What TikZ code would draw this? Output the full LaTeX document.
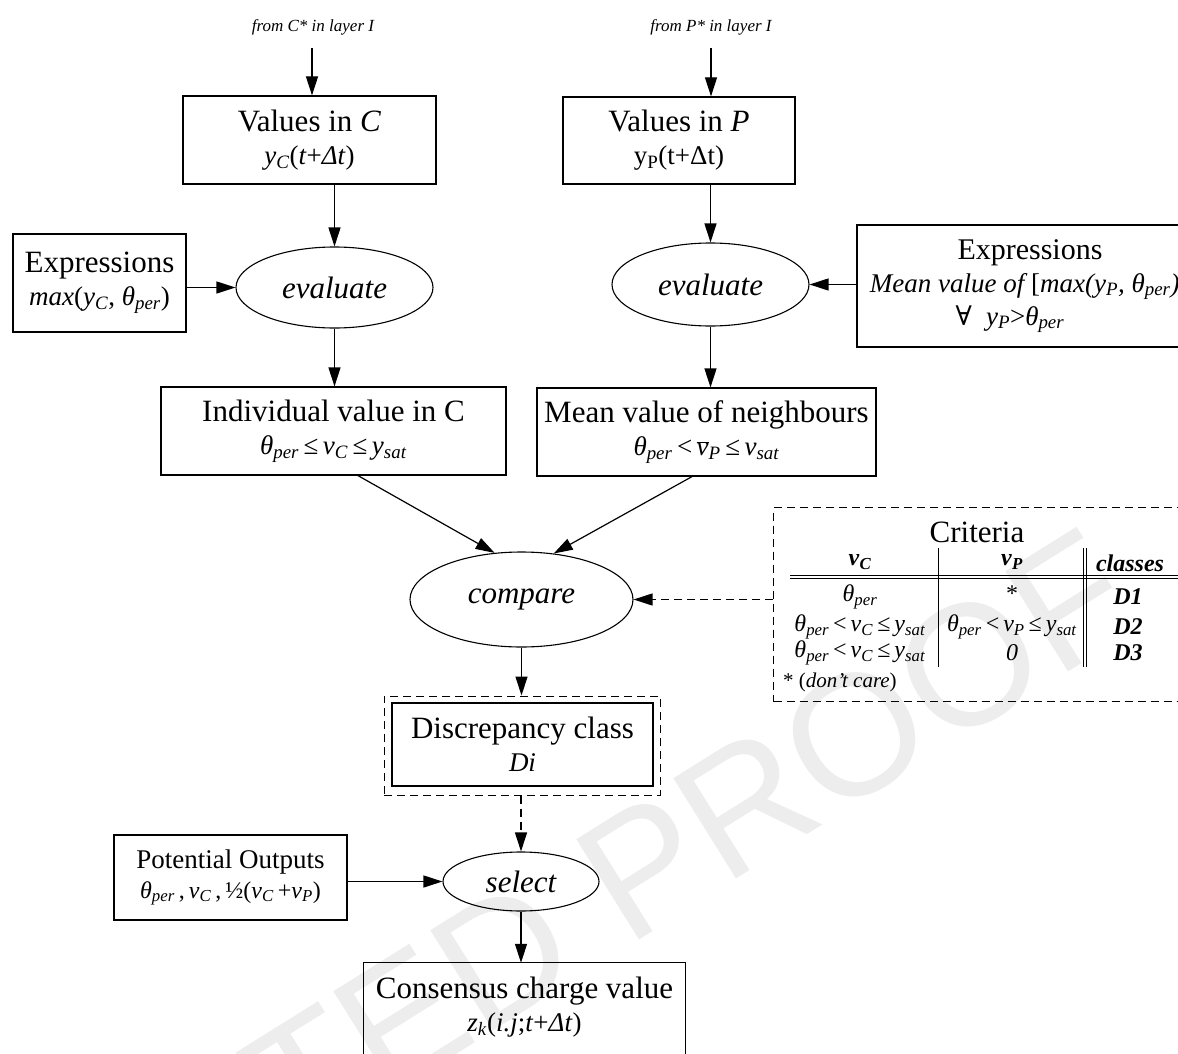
\documentclass[tikz,border=0pt]{standalone}
\usepackage{fontspec}
\setmainfont{Liberation Serif}
\setsansfont{Liberation Sans}
\newfontfamily\dvs{DejaVu Serif}
\usetikzlibrary{arrows.meta,shapes.geometric,calc}

\newcommand\iv[1]{\textit{#1}}
\newcommand\sbx[1]{\textsubscript{\textit{#1}}}
\newcommand\thp{\textit{θ}\sbx{per}}
\newcommand\bi[1]{\textbf{\textit{#1}}}
\newcommand\vbar{\ensuremath{\overline{\hbox{\textit{v}}}}}

\tikzset{
  box/.style={draw, line width=1.2pt, align=center, inner sep=0pt,
    font=\fontsize{31}{33}\selectfont},
  oval/.style={draw, ellipse, line width=1.1pt, inner sep=0pt,
    font=\fontsize{31}{33}\selectfont\itshape},
  arr/.style={line width=1.2pt, -{Triangle[length=19pt,width=12pt]}},
  dsh/.style={dash pattern=on 8pt off 5pt},
  cell/.style={font=\fontsize{24}{26}\selectfont, inner sep=0pt},
  rule/.style={line width=1pt},
  src/.style={font=\fontsize{17}{19}\selectfont\itshape},
}

\begin{document}
\begin{tikzpicture}[x=1pt,y=-1pt]
\useasboundingbox (0,0) rectangle (1178,1054);
\clip (0,0) rectangle (1178,1054);

% faint stamp across the lower right
\node[rotate=32, text=black!7, font=\fontsize{172}{172}\selectfont\sffamily]
  (stamp) at (438,996) {ACCEPTED PROOF};

% sources
\node[src] (srcC) at (313,27) {from C* in layer I};
\node[src] (srcP) at (711,27) {from P* in layer I};
\coordinate (inC) at (312,48);
\coordinate (inP) at (711,48);

% value boxes
\node[box, minimum width=253pt, minimum height=88pt] (C) at (309.5,140)
  {Values in \iv{C}\\{\fontsize{27}{30}\selectfont\iv{y}\sbx{C}(\iv{t}+\iv{Δt})}};
\node[box, minimum width=232pt, minimum height=87pt] (P) at (679,140.5)
  {Values in \iv{P}\\{\fontsize{27}{30}\selectfont y\textsubscript{P}(t+Δt)}};

% expressions
\node[box, minimum width=173pt, minimum height=98pt] (lexpr) at (99.5,283)
  {Expressions\\{\fontsize{27}{30}\selectfont\iv{max}(\iv{y}\sbx{C}, \thp)}};
\node[box, minimum width=346pt, minimum height=122pt] (rexpr) at (1030,286)
  {\fontsize{30}{32}\selectfont Expressions\\
   {\fontsize{27}{31}\selectfont\itshape Mean value of \upshape[\itshape max(\iv{y}\sbx{P}, \thp)]}\\
   {\fontsize{27}{31}\selectfont{\dvs ∀}\hspace{14pt}\iv{y}\sbx{P}>\thp\hspace*{40pt}}};

% evaluations
\node[oval, minimum width=197pt, minimum height=81pt] (ev1) at (334.5,287.5) {evaluate};
\node[oval, minimum width=197pt, minimum height=83pt] (ev2) at (710.5,284.5) {evaluate};

% derived values
\node[box, minimum width=345pt, minimum height=88pt] (indiv) at (333.5,431)
  {Individual value in C\\{\fontsize{27}{30}\selectfont\thp\,≤\,\iv{v}\sbx{C}\,≤\,\iv{y}\sbx{sat}}};
\node[box, minimum width=339pt, minimum height=88pt] (mean) at (706.5,432)
  {Mean value of neighbours\\{\fontsize{27}{30}\selectfont\thp\,<\,\vbar\sbx{P}\,≤\,\iv{v}\sbx{sat}}};

% comparison
\node[oval, minimum width=223pt, minimum height=95pt] (cmp) at (521.5,599.5) {compare};

% criteria table
\node[draw, dsh, line width=1pt, minimum width=427pt, minimum height=194pt,
  anchor=north west, inner sep=0pt] (crit) at (773,507) {};
\node[font=\fontsize{31}{31}\selectfont] (crittitle) at (977,532) {Criteria};
\node[cell] (h1) at (860,562) {\bi{v}\textsubscript{\bi{C}}};
\node[cell] (h2) at (1012,562) {\bi{v}\textsubscript{\bi{P}}};
\node[cell] (h3) at (1130,563) {\bi{classes}};
\draw[rule] (790,575.5) -- (1178,575.5);
\draw[rule] (790,578.5) -- (1178,578.5);
\draw[rule] (938,548) -- (938,667);
\draw[rule] (1083,548) -- (1083,667);
\draw[rule] (1086,548) -- (1086,667);
\node[cell] (r11) at (860,597) {\thp};
\node[cell] (r12) at (1012,594) {*};
\node[cell] (r13) at (1128,597) {\bi{D1}};
\node[cell] (r21) at (860,627) {\thp\,<\,\iv{v}\sbx{C}\,≤\,\iv{y}\sbx{sat}};
\node[cell] (r22) at (1012,627) {\thp\,<\,\iv{v}\sbx{P}\,≤\,\iv{y}\sbx{sat}};
\node[cell] (r23) at (1128,627) {\bi{D2}};
\node[cell] (r31) at (860,653) {\thp\,<\,\iv{v}\sbx{C}\,≤\,\iv{y}\sbx{sat}};
\node[cell] (r32) at (1012,653) {\iv{0}};
\node[cell] (r33) at (1128,653) {\bi{D3}};
\node[cell, anchor=west, font=\fontsize{21}{22}\selectfont] (dc) at (783,682) {* (\iv{don’t care})};

% discrepancy class
\node[draw, dsh, line width=1pt, minimum width=276pt, minimum height=99pt] (discout) at (522,745.5) {};
\node[box, minimum width=261pt, minimum height=83pt] (disc) at (522.5,744.5)
  {Discrepancy class\\{\fontsize{27}{30}\selectfont\iv{Di}}};

% selection
\node[oval, minimum width=156pt, minimum height=59pt] (sel) at (521,881.5) {select};
\node[box, minimum width=233pt, minimum height=85pt, font=\fontsize{27}{30}\selectfont] (pot) at (230.5,877.5)
  {Potential Outputs\\{\fontsize{24}{27}\selectfont\thp\,,\,\iv{v}\sbx{C}\,,\,½(\iv{v}\sbx{C}\,+\iv{v}\sbx{P})}};

% result
\node[align=center, inner sep=0pt, minimum width=321pt, minimum height=88pt,
  font=\fontsize{31}{33}\selectfont] (cons) at (524.5,1007)
  {Consensus charge value\\{\fontsize{27}{30}\selectfont\iv{z}\sbx{k}(\iv{i.j};\iv{t}+\iv{Δt})}};
\draw[line width=1.2pt] ([yshift=-30pt]cons.south west) |- (cons.north east) -- ([yshift=-30pt]cons.south east);

% connectors
\draw[arr] (inC) -- (inC |- C.north);
\draw[arr] (inP) -- (inP |- P.north);
\draw[arr] (ev1.north |- C.south) -- (ev1.north);
\draw[arr] (ev2.north |- P.south) -- (ev2.north);
\draw[arr] (ev1.west -| lexpr.east) -- (ev1.west);
\draw[arr] (ev2.east -| rexpr.west) -- (ev2.east);
\draw[arr] (ev1.south) -- (ev1.south |- indiv.north);
\draw[arr] (ev2.south) -- (ev2.south |- mean.north);
\draw[arr] ([xshift=24.5pt]indiv.south) -- (cmp.120);
\draw[arr] ([xshift=-14.5pt]mean.south) -- (cmp.55);
\draw[arr, dsh] (cmp.east -| crit.west) -- (cmp.east);
\draw[arr] (cmp.south) -- (cmp.south |- discout.north);
\draw[arr, dsh] (sel.north |- discout.south) -- (sel.north);
\draw[arr] (sel.west -| pot.east) -- (sel.west);
\draw[arr] (sel.south) -- (sel.south |- cons.north);
\end{tikzpicture}
\end{document}
